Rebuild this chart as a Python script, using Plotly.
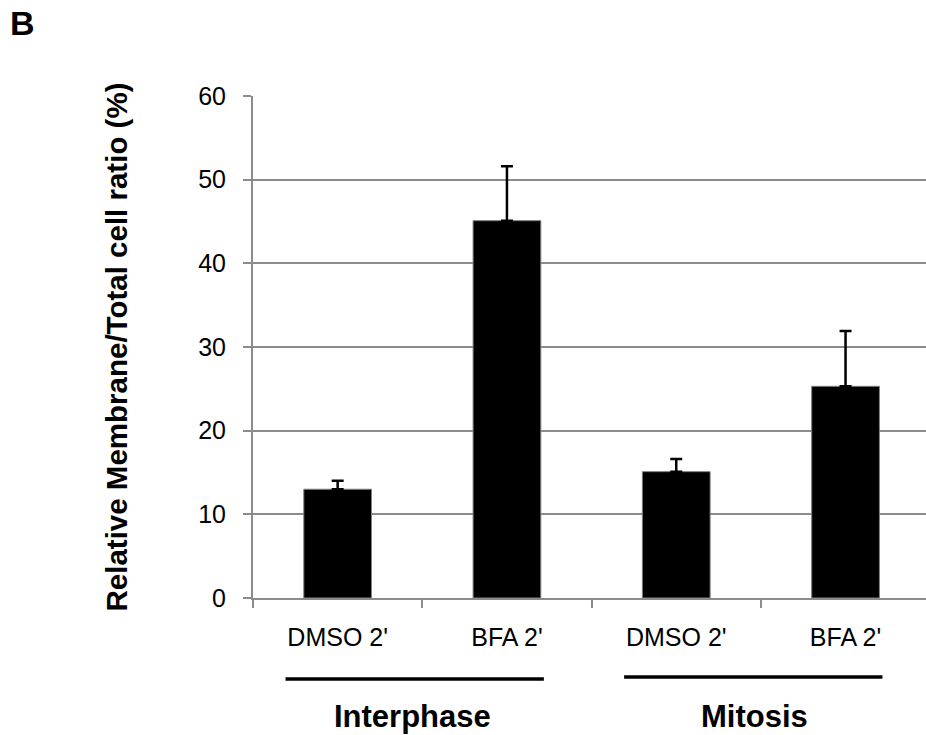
import plotly.graph_objects as go

# ---- data ----
tick_text = ["DMSO 2'", "BFA 2'", "DMSO 2'", "BFA 2'"]
values = [13.0, 45.1, 15.1, 25.3]
errors_plus = [1.0, 6.5, 1.5, 6.6]
group_labels = ["Interphase", "Mitosis"]
group_members = [[0, 1], [2, 3]]
y_ticks = [0, 10, 20, 30, 40, 50, 60]
y_title = "Relative Membrane/Total cell ratio (%)"
panel_label = "B"

FONT = "Liberation Sans, Arial, sans-serif"
GRID = "#8c8c8c"

W, H = 926, 735
ML, MR, MT, MB = 253, 0, 96, 137
plot_h = H - MT - MB

fig = go.Figure()
fig.add_trace(go.Bar(
    x=list(range(len(values))),
    y=values,
    width=0.40,
    marker=dict(color="black", line=dict(color="#7f7f7f", width=1)),
    error_y=dict(type="data", symmetric=False, array=errors_plus,
                 arrayminus=[0] * len(values), color="black",
                 thickness=2.5, width=6),
    showlegend=False,
))

def py(pix):
    # pixel row -> paper y
    return (H - MB - pix) / plot_h

shapes = []
annotations = []
for lab, mem in zip(group_labels, group_members):
    mid = (mem[0] + mem[-1]) / 2 - 0.045
    yline = py(679 if lab == "Interphase" else 677)
    shapes.append(dict(type="line", xref="x", yref="paper",
                       x0=mid - 0.763, x1=mid + 0.763, y0=yline, y1=yline,
                       line=dict(color="black", width=3.5)))
    annotations.append(dict(text=f"<b>{lab}</b>", xref="x", yref="paper",
                            x=mid + (-0.01 if lab == "Interphase" else 0.01),
                            y=py(716), xanchor="center",
                            yanchor="middle", showarrow=False,
                            font=dict(family=FONT, size=31, color="black")))

annotations.append(dict(text=f"<b>{panel_label}</b>", xref="paper", yref="paper",
                        x=(8 - ML) / (W - ML - MR), y=py(23), xanchor="left",
                        yanchor="middle", showarrow=False,
                        font=dict(family=FONT, size=34, color="black")))

fig.update_layout(
    width=W, height=H,
    margin=dict(l=ML, r=MR, t=MT, b=MB),
    paper_bgcolor="white", plot_bgcolor="white",
    font=dict(family=FONT, color="black"),
    shapes=shapes, annotations=annotations,
)
fig.update_xaxes(
    type="linear",
    range=[-0.5, -0.5 + (W - ML - MR) / 169.3],
    tickvals=list(range(len(values))), ticktext=tick_text,
    showgrid=False, zeroline=False,
    showline=True, linecolor=GRID, linewidth=2,
    ticks="", tickfont=dict(family=FONT, size=25, color="black"),
    ticklabelstandoff=16,
)
# boundary ticks drawn via minor ticks
fig.update_xaxes(minor=dict(tickvals=[-0.5, 0.5, 1.5, 2.5, 3.5], ticks="outside",
                            ticklen=8, tickcolor=GRID, tickwidth=2, showgrid=False))
fig.update_yaxes(
    range=[0, 60], tickvals=y_ticks,
    showgrid=True, gridcolor=GRID, gridwidth=2,
    zeroline=False,
    showline=True, linecolor=GRID, linewidth=2,
    ticks="outside", ticklen=8, tickcolor=GRID, tickwidth=2,
    tickfont=dict(family=FONT, size=25, color="black"),
    ticklabelstandoff=12,
    title=dict(text=f"<b>{y_title}</b>", standoff=62,
               font=dict(family=FONT, size=29.5, color="black")),
)

fig.write_html("out.html",
               config={"displayModeBar": False},
               post_script="document.body.style.margin='0';document.body.style.overflow='hidden';")
